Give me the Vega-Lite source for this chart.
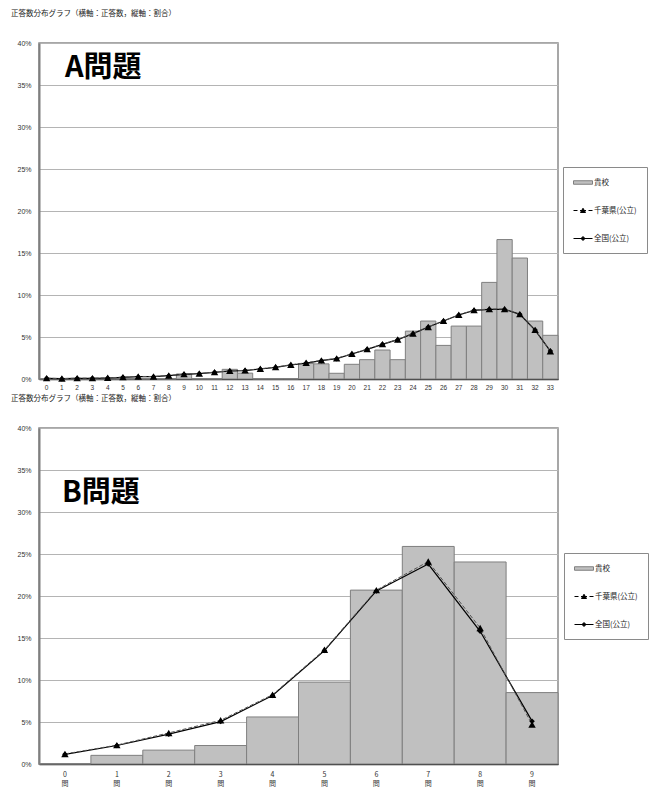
{
  "$schema": "https://vega.github.io/schema/vega-lite/v6.json",
  "background": "white",
  "padding": {"left": 10, "top": 8, "right": 0, "bottom": 0},
  "autosize": {"type": "pad"},
  "spacing": 1,
  "resolve": {"scale": {"fill": "independent", "stroke": "independent", "shape": "independent"}, "legend": {"fill": "independent", "stroke": "independent", "shape": "independent"}},
  "config": {
    "view": {"stroke": "#8a8a8a", "strokeWidth": 1.5},
    "axis": {"labelFont": "Liberation Sans", "labelColor": "#333", "title": null, "ticks": false, "gridColor": "#b4b4b4", "gridWidth": 1},
    "legend": {"labelFont": "Noto Sans CJK JP", "labelFontSize": 7.5, "labelColor": "#222"}
  },
  "datasets": {
    "a_school": [
      {"q":0,"pct":0},{"q":1,"pct":0},{"q":2,"pct":0},{"q":3,"pct":0},{"q":4,"pct":0},{"q":5,"pct":0},{"q":6,"pct":0},{"q":7,"pct":0},{"q":8,"pct":0},{"q":9,"pct":0.6},{"q":10,"pct":0},{"q":11,"pct":0},{"q":12,"pct":1.15},{"q":13,"pct":0.7},{"q":14,"pct":0},{"q":15,"pct":0},{"q":16,"pct":0},{"q":17,"pct":1.85},{"q":18,"pct":1.8},{"q":19,"pct":0.68},{"q":20,"pct":1.75},{"q":21,"pct":2.3},{"q":22,"pct":3.45},{"q":23,"pct":2.3},{"q":24,"pct":5.7},{"q":25,"pct":6.9},{"q":26,"pct":4.0},{"q":27,"pct":6.3},{"q":28,"pct":6.3},{"q":29,"pct":11.5},{"q":30,"pct":16.6},{"q":31,"pct":14.4},{"q":32,"pct":6.9},{"q":33,"pct":5.2}
    ],
    "a_lines": [
      {"q":0,"series":"全国(公立)","pct":0.08},{"q":1,"series":"全国(公立)","pct":0.04},{"q":2,"series":"全国(公立)","pct":0.08},{"q":3,"series":"全国(公立)","pct":0.08},{"q":4,"series":"全国(公立)","pct":0.12},{"q":5,"series":"全国(公立)","pct":0.2},{"q":6,"series":"全国(公立)","pct":0.28},{"q":7,"series":"全国(公立)","pct":0.28},{"q":8,"series":"全国(公立)","pct":0.4},{"q":9,"series":"全国(公立)","pct":0.56},{"q":10,"series":"全国(公立)","pct":0.64},{"q":11,"series":"全国(公立)","pct":0.8},{"q":12,"series":"全国(公立)","pct":0.95},{"q":13,"series":"全国(公立)","pct":1.0},{"q":14,"series":"全国(公立)","pct":1.19},{"q":15,"series":"全国(公立)","pct":1.39},{"q":16,"series":"全国(公立)","pct":1.67},{"q":17,"series":"全国(公立)","pct":1.9},{"q":18,"series":"全国(公立)","pct":2.18},{"q":19,"series":"全国(公立)","pct":2.42},{"q":20,"series":"全国(公立)","pct":2.98},{"q":21,"series":"全国(公立)","pct":3.53},{"q":22,"series":"全国(公立)","pct":4.13},{"q":23,"series":"全国(公立)","pct":4.68},{"q":24,"series":"全国(公立)","pct":5.4},{"q":25,"series":"全国(公立)","pct":6.19},{"q":26,"series":"全国(公立)","pct":6.9},{"q":27,"series":"全国(公立)","pct":7.62},{"q":28,"series":"全国(公立)","pct":8.17},{"q":29,"series":"全国(公立)","pct":8.29},{"q":30,"series":"全国(公立)","pct":8.29},{"q":31,"series":"全国(公立)","pct":7.7},{"q":32,"series":"全国(公立)","pct":5.83},{"q":33,"series":"全国(公立)","pct":3.33},
      {"q":0,"series":"千葉県(公立)","pct":0.1},{"q":1,"series":"千葉県(公立)","pct":0.05},{"q":2,"series":"千葉県(公立)","pct":0.1},{"q":3,"series":"千葉県(公立)","pct":0.1},{"q":4,"series":"千葉県(公立)","pct":0.14},{"q":5,"series":"千葉県(公立)","pct":0.22},{"q":6,"series":"千葉県(公立)","pct":0.3},{"q":7,"series":"千葉県(公立)","pct":0.3},{"q":8,"series":"千葉県(公立)","pct":0.42},{"q":9,"series":"千葉県(公立)","pct":0.58},{"q":10,"series":"千葉県(公立)","pct":0.66},{"q":11,"series":"千葉県(公立)","pct":0.82},{"q":12,"series":"千葉県(公立)","pct":0.97},{"q":13,"series":"千葉県(公立)","pct":1.03},{"q":14,"series":"千葉県(公立)","pct":1.22},{"q":15,"series":"千葉県(公立)","pct":1.42},{"q":16,"series":"千葉県(公立)","pct":1.7},{"q":17,"series":"千葉県(公立)","pct":1.93},{"q":18,"series":"千葉県(公立)","pct":2.22},{"q":19,"series":"千葉県(公立)","pct":2.46},{"q":20,"series":"千葉県(公立)","pct":3.0},{"q":21,"series":"千葉県(公立)","pct":3.56},{"q":22,"series":"千葉県(公立)","pct":4.15},{"q":23,"series":"千葉県(公立)","pct":4.7},{"q":24,"series":"千葉県(公立)","pct":5.42},{"q":25,"series":"千葉県(公立)","pct":6.2},{"q":26,"series":"千葉県(公立)","pct":6.92},{"q":27,"series":"千葉県(公立)","pct":7.65},{"q":28,"series":"千葉県(公立)","pct":8.2},{"q":29,"series":"千葉県(公立)","pct":8.33},{"q":30,"series":"千葉県(公立)","pct":8.33},{"q":31,"series":"千葉県(公立)","pct":7.72},{"q":32,"series":"千葉県(公立)","pct":5.85},{"q":33,"series":"千葉県(公立)","pct":3.3}
    ],
    "b_school": [
      {"q":0,"pct":0},{"q":1,"pct":1.03},{"q":2,"pct":1.65},{"q":3,"pct":2.2},{"q":4,"pct":5.6},{"q":5,"pct":9.75},{"q":6,"pct":20.7},{"q":7,"pct":25.9},{"q":8,"pct":24.05},{"q":9,"pct":8.5}
    ],
    "b_lines": [
      {"q":0,"series":"全国(公立)","pct":1.15},{"q":1,"series":"全国(公立)","pct":2.2},{"q":2,"series":"全国(公立)","pct":3.55},{"q":3,"series":"全国(公立)","pct":5.05},{"q":4,"series":"全国(公立)","pct":8.15},{"q":5,"series":"全国(公立)","pct":13.5},{"q":6,"series":"全国(公立)","pct":20.6},{"q":7,"series":"全国(公立)","pct":23.8},{"q":8,"series":"全国(公立)","pct":15.8},{"q":9,"series":"全国(公立)","pct":5.1},
      {"q":0,"series":"千葉県(公立)","pct":1.2},{"q":1,"series":"千葉県(公立)","pct":2.25},{"q":2,"series":"千葉県(公立)","pct":3.7},{"q":3,"series":"千葉県(公立)","pct":5.2},{"q":4,"series":"千葉県(公立)","pct":8.25},{"q":5,"series":"千葉県(公立)","pct":13.6},{"q":6,"series":"千葉県(公立)","pct":20.7},{"q":7,"series":"千葉県(公立)","pct":24.1},{"q":8,"series":"千葉県(公立)","pct":16.2},{"q":9,"series":"千葉県(公立)","pct":4.7}
    ]
  },
  "vconcat": [
    {
      "width": 519,
      "height": 336,
      "title": {"text": "正答数分布グラフ（横軸：正答数，縦軸：割合）", "anchor": "start", "frame": "group", "dx": -28, "offset": 22, "fontSize": 7.5, "font": "Noto Sans CJK JP", "fontWeight": "normal", "color": "#222"},
      "layer": [
        {
          "data": {"name": "a_school"},
          "mark": {"type": "bar", "fill": "#c0c0c0", "stroke": "#7f7f7f", "strokeWidth": 1},
          "encoding": {
            "x": {"field": "q", "type": "ordinal", "scale": {"domain": [0,1,2,3,4,5,6,7,8,9,10,11,12,13,14,15,16,17,18,19,20,21,22,23,24,25,26,27,28,29,30,31,32,33], "paddingInner": 0, "paddingOuter": 0},
              "axis": {"labelAngle": 0, "labelFontSize": 6.5, "labelPadding": 5, "domainColor": "#222", "domainWidth": 1.5, "grid": false}},
            "y": {"field": "pct", "type": "quantitative", "scale": {"domain": [0, 40], "nice": false},
              "axis": {"values": [0,5,10,15,20,25,30,35,40], "grid": true, "labelExpr": "datum.value + '%'", "labelFontSize": 7, "labelPadding": 8, "domainColor": "#7f7f7f", "domainWidth": 2}}
          }
        },
        {
          "data": {"name": "a_lines"},
          "transform": [{"filter": "datum.series === '全国(公立)'"}],
          "mark": {"type": "line", "color": "#000", "strokeWidth": 1.2},
          "encoding": {"x": {"field": "q", "type": "ordinal"}, "y": {"field": "pct", "type": "quantitative"}}
        },
        {
          "data": {"name": "a_lines"},
          "transform": [{"filter": "datum.series === '千葉県(公立)'"}],
          "mark": {"type": "line", "color": "#555", "strokeWidth": 1, "strokeDash": [4, 2]},
          "encoding": {"x": {"field": "q", "type": "ordinal"}, "y": {"field": "pct", "type": "quantitative"}}
        },
        {
          "data": {"name": "a_lines"},
          "transform": [{"filter": "datum.series === '全国(公立)'"}],
          "mark": {"type": "point", "shape": "diamond", "filled": true, "color": "#000", "size": 30, "opacity": 1},
          "encoding": {"x": {"field": "q", "type": "ordinal"}, "y": {"field": "pct", "type": "quantitative"}}
        },
        {
          "data": {"name": "a_lines"},
          "transform": [{"filter": "datum.series === '千葉県(公立)'"}],
          "mark": {"type": "point", "shape": "triangle-up", "filled": true, "color": "#000", "size": 55, "opacity": 1},
          "encoding": {"x": {"field": "q", "type": "ordinal"}, "y": {"field": "pct", "type": "quantitative"}}
        },
        {
          "data": {"name": "a_lines"},
          "transform": [{"filter": "false"}],
          "mark": {"type": "point", "strokeWidth": 1, "opacity": 1},
          "encoding": {
            "x": {"field": "q", "type": "ordinal"},
            "y": {"field": "pct", "type": "quantitative"},
            "fill": {"field": "series", "type": "nominal",
              "scale": {"domain": ["貴校", "千葉県(公立)", "全国(公立)"], "range": ["#c0c0c0", "#000000", "#000000"]},
              "legend": {"title": null, "orient": "none", "legendX": 524, "legendY": 124, "padding": 10, "strokeColor": "#8a8a8a", "fillColor": "#ffffff", "symbolSize": 100, "symbolStrokeWidth": 1, "symbolOpacity": 1, "labelOffset": 10, "rowPadding": 18}},
            "stroke": {"field": "series", "type": "nominal",
              "scale": {"domain": ["貴校", "千葉県(公立)", "全国(公立)"], "range": ["#7f7f7f", "#000000", "#000000"]},
              "legend": {"title": null, "orient": "none", "legendX": 524, "legendY": 124, "padding": 10, "strokeColor": "#8a8a8a", "fillColor": "#ffffff", "symbolSize": 100, "symbolStrokeWidth": 1, "symbolOpacity": 1, "labelOffset": 10, "rowPadding": 18}},
            "shape": {"field": "series", "type": "nominal",
              "scale": {"domain": ["貴校", "千葉県(公立)", "全国(公立)"], "range": ["M-1,-0.35H2.8V0.35H-1Z", "M-1,0H-0.2M0.3,0H1.5M2.0,0H2.8M0.9,-0.45L1.4,0.4H0.4Z", "M-1,0H2.8M0.9,-0.4L1.3,0L0.9,0.4L0.5,0Z"]},
              "legend": {"title": null, "orient": "none", "legendX": 524, "legendY": 124, "padding": 10, "strokeColor": "#8a8a8a", "fillColor": "#ffffff", "symbolSize": 100, "symbolStrokeWidth": 1, "symbolOpacity": 1, "labelOffset": 10, "rowPadding": 18}}
          }
        },
        {
          "data": {"values": [{"label": "A問題"}]},
          "mark": {"type": "text", "align": "left", "baseline": "alphabetic", "dx": 3, "fontSize": 29, "fontWeight": "bold", "font": "Noto Sans CJK JP", "color": "#000"},
          "encoding": {"x": {"datum": 1, "type": "ordinal"}, "y": {"datum": 36, "type": "quantitative"}, "text": {"field": "label"}}
        }
      ]
    },
    {
      "width": 519,
      "height": 336,
      "title": {"text": "正答数分布グラフ（横軸：正答数，縦軸：割合）", "anchor": "start", "frame": "group", "dx": -28, "offset": 22, "fontSize": 7.5, "font": "Noto Sans CJK JP", "fontWeight": "normal", "color": "#222"},
      "layer": [
        {
          "data": {"name": "b_school"},
          "mark": {"type": "bar", "fill": "#c0c0c0", "stroke": "#7f7f7f", "strokeWidth": 1},
          "encoding": {
            "x": {"field": "q", "type": "ordinal", "scale": {"domain": [0,1,2,3,4,5,6,7,8,9], "paddingInner": 0, "paddingOuter": 0},
              "axis": {"labelAngle": 0, "labelFont": "Noto Sans CJK JP", "labelFontSize": 7, "labelPadding": 6, "labelLineHeight": 9, "labelExpr": "[datum.label, '問']", "domainColor": "#222", "domainWidth": 1.5, "grid": false}},
            "y": {"field": "pct", "type": "quantitative", "scale": {"domain": [0, 40], "nice": false},
              "axis": {"values": [0,5,10,15,20,25,30,35,40], "grid": true, "labelExpr": "datum.value + '%'", "labelFontSize": 7, "labelPadding": 8, "domainColor": "#7f7f7f", "domainWidth": 2}}
          }
        },
        {
          "data": {"name": "b_lines"},
          "transform": [{"filter": "datum.series === '全国(公立)'"}],
          "mark": {"type": "line", "color": "#000", "strokeWidth": 1.2},
          "encoding": {"x": {"field": "q", "type": "ordinal"}, "y": {"field": "pct", "type": "quantitative"}}
        },
        {
          "data": {"name": "b_lines"},
          "transform": [{"filter": "datum.series === '千葉県(公立)'"}],
          "mark": {"type": "line", "color": "#555", "strokeWidth": 1, "strokeDash": [4, 2]},
          "encoding": {"x": {"field": "q", "type": "ordinal"}, "y": {"field": "pct", "type": "quantitative"}}
        },
        {
          "data": {"name": "b_lines"},
          "transform": [{"filter": "datum.series === '全国(公立)'"}],
          "mark": {"type": "point", "shape": "diamond", "filled": true, "color": "#000", "size": 30, "opacity": 1},
          "encoding": {"x": {"field": "q", "type": "ordinal"}, "y": {"field": "pct", "type": "quantitative"}}
        },
        {
          "data": {"name": "b_lines"},
          "transform": [{"filter": "datum.series === '千葉県(公立)'"}],
          "mark": {"type": "point", "shape": "triangle-up", "filled": true, "color": "#000", "size": 55, "opacity": 1},
          "encoding": {"x": {"field": "q", "type": "ordinal"}, "y": {"field": "pct", "type": "quantitative"}}
        },
        {
          "data": {"name": "b_lines"},
          "transform": [{"filter": "false"}],
          "mark": {"type": "point", "strokeWidth": 1, "opacity": 1},
          "encoding": {
            "x": {"field": "q", "type": "ordinal"},
            "y": {"field": "pct", "type": "quantitative"},
            "fill": {"field": "series", "type": "nominal",
              "scale": {"domain": ["貴校", "千葉県(公立)", "全国(公立)"], "range": ["#c0c0c0", "#000000", "#000000"]},
              "legend": {"title": null, "orient": "none", "legendX": 525, "legendY": 125, "padding": 10, "strokeColor": "#8a8a8a", "fillColor": "#ffffff", "symbolSize": 100, "symbolStrokeWidth": 1, "symbolOpacity": 1, "labelOffset": 10, "rowPadding": 18}},
            "stroke": {"field": "series", "type": "nominal",
              "scale": {"domain": ["貴校", "千葉県(公立)", "全国(公立)"], "range": ["#7f7f7f", "#000000", "#000000"]},
              "legend": {"title": null, "orient": "none", "legendX": 525, "legendY": 125, "padding": 10, "strokeColor": "#8a8a8a", "fillColor": "#ffffff", "symbolSize": 100, "symbolStrokeWidth": 1, "symbolOpacity": 1, "labelOffset": 10, "rowPadding": 18}},
            "shape": {"field": "series", "type": "nominal",
              "scale": {"domain": ["貴校", "千葉県(公立)", "全国(公立)"], "range": ["M-1,-0.35H2.8V0.35H-1Z", "M-1,0H-0.2M0.3,0H1.5M2.0,0H2.8M0.9,-0.45L1.4,0.4H0.4Z", "M-1,0H2.8M0.9,-0.4L1.3,0L0.9,0.4L0.5,0Z"]},
              "legend": {"title": null, "orient": "none", "legendX": 525, "legendY": 125, "padding": 10, "strokeColor": "#8a8a8a", "fillColor": "#ffffff", "symbolSize": 100, "symbolStrokeWidth": 1, "symbolOpacity": 1, "labelOffset": 10, "rowPadding": 18}}
          }
        },
        {
          "data": {"values": [{"label": "B問題"}]},
          "mark": {"type": "text", "align": "left", "baseline": "alphabetic", "dx": -3, "fontSize": 29, "fontWeight": "bold", "font": "Noto Sans CJK JP", "color": "#000"},
          "encoding": {"x": {"datum": 0, "type": "ordinal"}, "y": {"datum": 31.2, "type": "quantitative"}, "text": {"field": "label"}}
        }
      ]
    }
  ]
}
